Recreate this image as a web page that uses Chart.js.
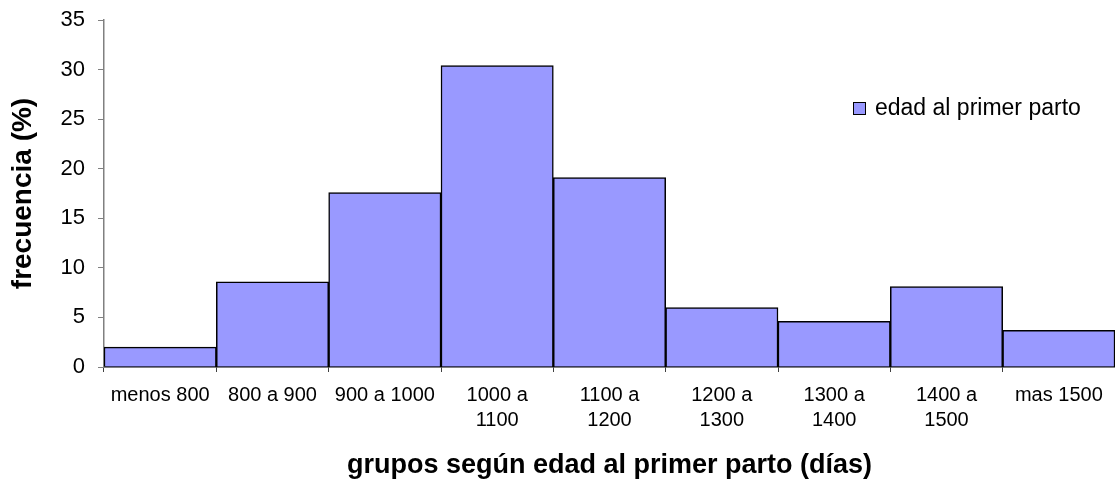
<!DOCTYPE html>
<html>
<head>
<meta charset="utf-8">
<script src="https://cdn.jsdelivr.net/npm/chart.js@4"></script>
<style>
  html, body { margin: 0; padding: 0; background: #fff; }
  #wrap { width: 1115px; height: 483px; }
</style>
</head>
<body>
<div id="wrap"><canvas id="edadChart"></canvas></div>
<script>
// datos
const categorias = [
  'menos 800', '800 a 900', '900 a 1000', ['1000 a', '1100'], ['1100 a', '1200'],
  ['1200 a', '1300'], ['1300 a', '1400'], ['1400 a', '1500'], 'mas 1500'
];
const frecuencia = [2.0, 8.6, 17.6, 30.4, 19.1, 6.0, 4.6, 8.1, 3.7];
const serieNombre = 'edad al primer parto';
const ticksY = [0, 5, 10, 15, 20, 25, 30, 35];

const fuente = "'Liberation Sans', Arial, sans-serif";

// leyenda dibujada dentro del area del grafico
const leyenda = {
  id: 'leyenda',
  afterDraw(chart) {
    const ctx = chart.ctx;
    const ds = chart.data.datasets[0];
    ctx.save();
    ctx.fillStyle = ds.backgroundColor;
    ctx.fillRect(853, 102, 13, 13);
    ctx.strokeStyle = '#000';
    ctx.lineWidth = 1;
    ctx.strokeRect(853.5, 102.5, 12, 12);
    ctx.fillStyle = '#000';
    ctx.font = '23px ' + fuente;
    ctx.textBaseline = 'middle';
    ctx.fillText(ds.label, 875, 109);
    ctx.restore();
  }
};

const ctx = document.getElementById('edadChart').getContext('2d');
new Chart(ctx, {
  type: 'bar',
  data: {
    labels: categorias,
    datasets: [{
      label: serieNombre,
      data: frecuencia,
      backgroundColor: '#9999FF',
      borderColor: '#000',
      borderWidth: 1.5,
      barPercentage: 1,
      categoryPercentage: 1
    }]
  },
  options: {
    responsive: true,
    maintainAspectRatio: false,
    animation: false,
    layout: { padding: { top: 20, right: 0, left: 0, bottom: 0 } },
    plugins: {
      legend: { display: false },
      tooltip: { enabled: false }
    },
    scales: {
      x: {
        afterFit: (s) => { s.height = 116; },
        grid: { drawOnChartArea: false, tickLength: 5, color: '#404040' },
        border: { color: '#000', width: 1.5 },
        ticks: {
          color: '#000',
          maxRotation: 0,
          autoSkip: false,
          padding: 11,
          font: { family: fuente, size: 20, lineHeight: 1.25 }
        },
        title: {
          display: true,
          text: 'grupos según edad al primer parto (días)',
          color: '#000',
          font: { family: fuente, size: 27, weight: 'bold' },
          padding: { bottom: 1 }
        }
      },
      y: {
        min: 0,
        max: 35,
        afterFit: (s) => { s.width = 104; s.paddingTop = 0; s.paddingBottom = 0; },
        afterBuildTicks: (s) => { s.ticks = ticksY.map(v => ({ value: v })); },
        grid: { drawOnChartArea: false, tickLength: 6, color: '#808080' },
        border: { color: '#808080', width: 1.5 },
        ticks: {
          color: '#000',
          padding: 13,
          font: { family: fuente, size: 22 }
        },
        title: {
          display: true,
          text: 'frecuencia (%)',
          color: '#000',
          font: { family: fuente, size: 28, weight: 'bold' },
          padding: { top: 6 }
        }
      }
    }
  },
  plugins: [leyenda]
});
</script>
</body>
</html>
